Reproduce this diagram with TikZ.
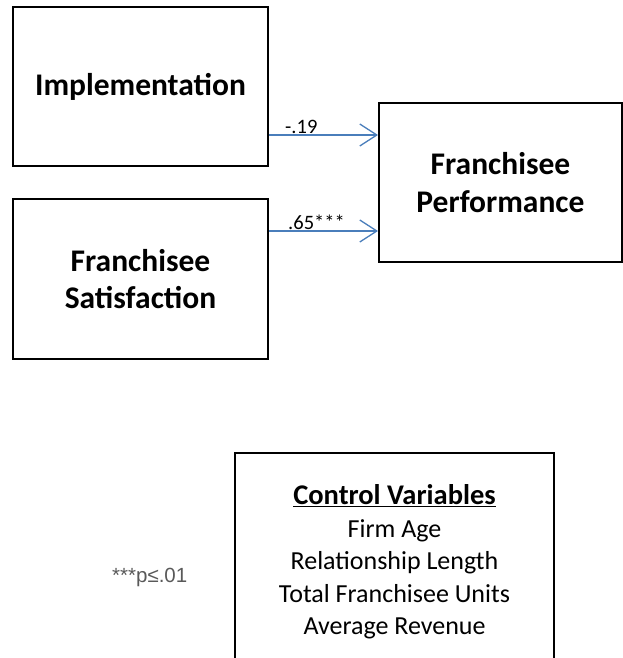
\documentclass[tikz,border=0pt]{standalone}
\usepackage{fontspec}
\setmainfont{Carlito}
\newfontfamily\arialfont{Liberation Sans}
\usetikzlibrary{arrows.meta}
\definecolor{arrowblue}{RGB}{74,126,187}
\definecolor{notegray}{RGB}{89,89,89}
\tikzset{
  mainbox/.style={draw=black, line width=2pt, align=center, inner sep=0pt,
    font=\fontsize{31.5}{37.5}\selectfont\bfseries},
  pathlink/.style={draw=arrowblue, line width=1.3pt,
    -{Straight Barb[length=17pt, width=22pt, line width=1.3pt]}},
  coeflabel/.style={anchor=base west, inner sep=0pt,
    font=\fontsize{20.5}{22}\selectfont},
  ctrlframe/.style={draw=black, line width=2pt},
  ctrltext/.style={align=center, inner sep=0pt,
    font=\fontsize{26}{32.5}\selectfont},
  notetext/.style={anchor=base west, inner sep=0pt, text=notegray,
    font=\arialfont\fontsize{20.5}{22}\selectfont}
}
\begin{document}
\begin{tikzpicture}[x=1pt, y=-1pt]
\useasboundingbox (0,0) rectangle (623,658);
\node[mainbox, minimum width=255pt, minimum height=159pt] (impl) at (140.5,86.5) {\raisebox{-2pt}{Implementation}};
\node[mainbox, minimum width=255pt, minimum height=160pt] (sat) at (140.5,279) {Franchisee\\Satisfaction};
\node[mainbox, minimum width=243pt, minimum height=159pt] (perf) at (500.5,182.5) {Franchisee\\Performance};
\coordinate (ya) at (0,135);
\coordinate (yb) at (0,231);
\draw[pathlink] (impl.east |- ya) -- (perf.west |- ya);
\draw[pathlink] (sat.east |- yb) -- (perf.west |- yb);
\node[coeflabel] (la) at (285,133) {-.19};
\node[coeflabel] (lb) at (288,229) {.65***};
\begin{scope}
\clip (0,0) rectangle (623,658);
\draw[ctrlframe] (235,680) -- (235,453) -- (554,453) -- (554,680);
\end{scope}
\node[ctrltext] (ctrl) at (394.5,562) {{\fontsize{28.5}{32.5}\selectfont\bfseries\underline{Control Variables}}\\Firm Age\\Relationship Length\\Total Franchisee Units\\Average Revenue};
\node[notetext] (note) at (112,582) {***p≤.01};
\end{tikzpicture}
\end{document}
